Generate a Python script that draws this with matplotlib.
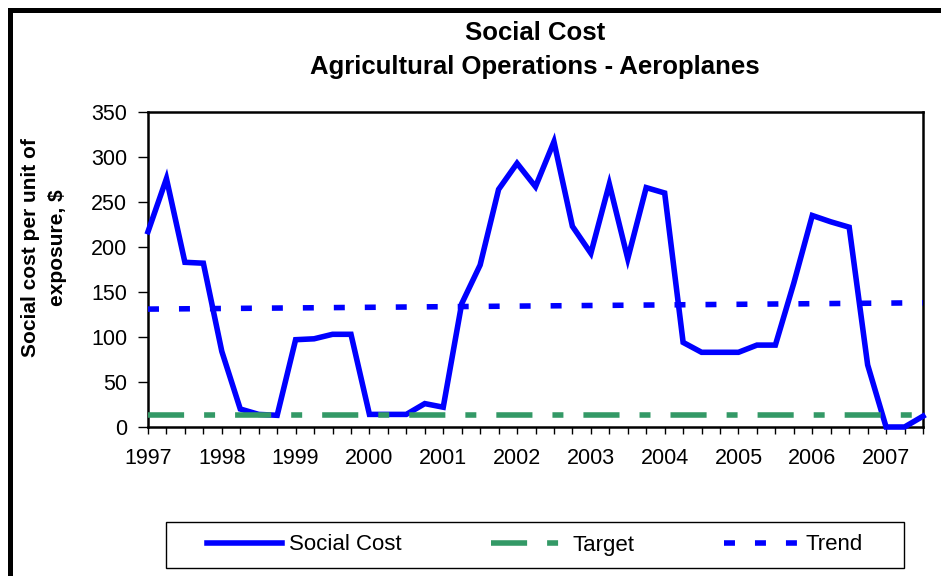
import matplotlib.pyplot as plt
import numpy as np
from matplotlib.lines import Line2D
from matplotlib.patches import Rectangle

plt.rcParams['font.family'] = ['Liberation Sans', 'DejaVu Sans']
plt.rcParams['lines.scale_dashes'] = False

# quarterly social cost per unit of exposure, 1997 Q1 .. 2007 Q3
social_cost = [217, 276, 183, 182, 84, 20, 14, 13, 97, 98, 103, 103, 14, 14, 14, 26,
               22, 137, 180, 264, 293, 267, 317, 223, 193, 270, 187, 266, 260, 94, 83, 83,
               83, 91, 91, 160, 235, 228, 222, 69, 0, 0, 12]
years = ['1997', '1998', '1999', '2000', '2001', '2002', '2003', '2004', '2005', '2006', '2007']
target = 13
trend_ends = [131, 138]

x = np.arange(len(social_cost))
blue = '#0000FF'
green = '#339966'

fig = plt.figure(figsize=(9.41, 5.76), dpi=100)
ax = fig.add_axes([148 / 941, 1 - 427 / 576, 775 / 941, 315 / 576])

ax.plot(x, social_cost, '-', color=blue, lw=4, label='Social Cost', clip_on=False,
        solid_joinstyle='miter', zorder=3)
ax.plot([x[0], x[-1]], [target, target], color=green, lw=4, label='Target',
        linestyle=(0, (26, 14.4, 7.9, 14.4)), zorder=4)
ax.plot([x[0], x[-1]], trend_ends, color=blue, lw=4, label='Trend',
        linestyle=(0, (7.9, 14.4)), zorder=5)

ax.set_xlim(x[0], x[-1])
ax.set_ylim(0, 350)
ax.set_yticks(np.arange(0, 351, 50))
ax.set_xticks(x)
ax.set_xticklabels([years[i // 4] if i % 4 == 0 else '' for i in x])
ax.tick_params(axis='x', direction='out', length=5, width=1, pad=10, labelsize=15.5)
ax.tick_params(axis='y', direction='out', length=7, width=1, pad=8, labelsize=15.5)
for s in ax.spines.values():
    s.set_linewidth(1.8)

ax.set_ylabel('Social cost per unit of\nexposure, $', fontsize=15, fontweight='bold',
              linespacing=1.5, va='center')
ax.yaxis.set_label_coords(-0.134, 0.57)

fig.text(535 / 941, 1 - 33 / 576, 'Social Cost', ha='center', va='center',
         fontsize=18.5, fontweight='bold')
fig.text(535 / 941, 1 - 67 / 576, 'Agricultural Operations - Aeroplanes', ha='center',
         va='center', fontsize=18.5, fontweight='bold')

# legend box
fig.add_artist(Rectangle((166 / 941, 1 - 568 / 576), 738 / 941, 46 / 576,
                         transform=fig.transFigure, facecolor='white',
                         edgecolor='black', lw=1))
fig.legend(loc='center', ncol=3, bbox_to_anchor=(535 / 941, 1 - 545 / 576),
           fontsize=16, handlelength=3.4, handletextpad=0.3, columnspacing=4.0,
           borderaxespad=0, borderpad=0, frameon=False)

# outer chart frame (left and top edges)
fig.add_artist(Line2D([9.5 / 941, 9.5 / 941, 1], [0, 1 - 9.5 / 576, 1 - 9.5 / 576],
                      transform=fig.transFigure, color='black', lw=3.6,
                      solid_joinstyle='miter'))

fig.savefig('out.png', dpi=100)
